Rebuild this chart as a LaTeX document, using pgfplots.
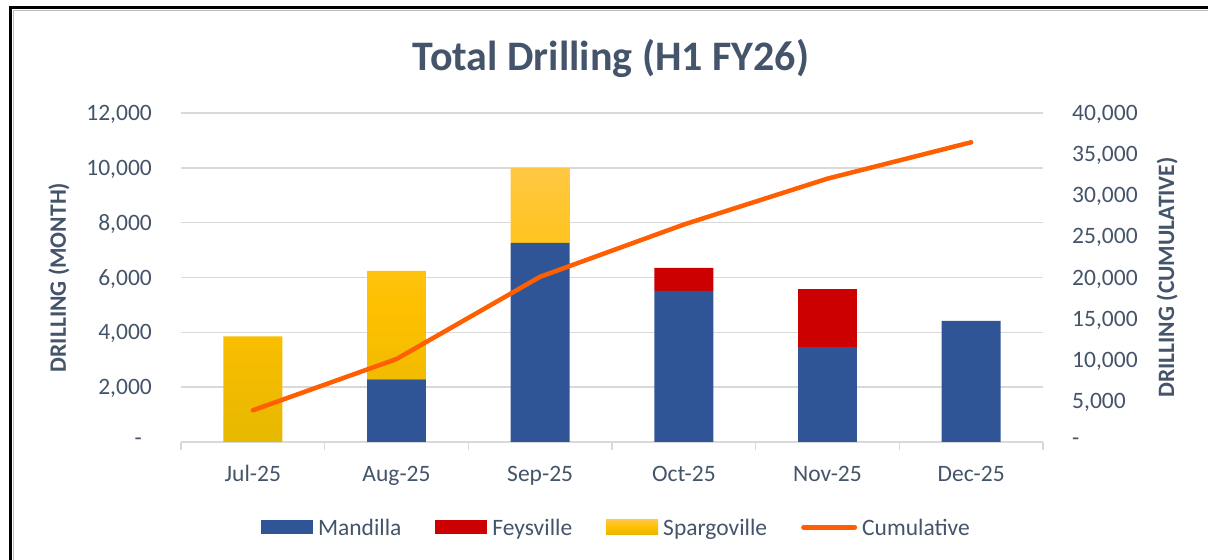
\documentclass[border=0pt]{standalone}
\usepackage{pgfplots}
\pgfplotsset{compat=1.18}
\usepackage{fontspec}
\setmainfont{Carlito}
\definecolor{txt}{HTML}{44546A}
\definecolor{gridc}{HTML}{D9D9D9}
\definecolor{mand}{HTML}{2F5597}
\definecolor{feys}{HTML}{CC0000}
\definecolor{spb}{HTML}{E6B800}
\definecolor{spm}{HTML}{FFC000}
\definecolor{spt}{HTML}{FFC843}
\definecolor{cum}{HTML}{FF5F00}
\pgfdeclareverticalshading{spargo}{100bp}{color(0bp)=(spb); color(25bp)=(spb); color(50bp)=(spm); color(75bp)=(spt); color(100bp)=(spt)}
\newcommand\lab{\fontsize{23.5bp}{28bp}\selectfont}
\begin{document}
\begin{tikzpicture}[x=1bp,y=1bp]
\useasboundingbox (0,0) rectangle (1208,560);
\draw[black!25, line width=1.2bp] (13.5,-10) -- (13.5,549.5) -- (1230,549.5);
\draw[black, line width=3bp] (10.5,-10) -- (10.5,552) -- (1230,552);
\begin{axis}[
  at={(181bp,118bp)}, anchor=south west,
  width=862bp, height=329bp, scale only axis,
  xmin=-0.5, xmax=5.5, ymin=0, ymax=12000,
  scaled y ticks=false,
  axis x line*=bottom, axis y line*=left,
  y axis line style={draw=none},
  x axis line style={gridc, line width=1.5bp},
  ytick={0,2000,...,12000},
  yticklabels={{-\hspace*{10bp}},{2,000},{4,000},{6,000},{8,000},{10,000},{12,000}},
  xtick={0,...,5},
  xticklabels={Jul-25,Aug-25,Sep-25,Oct-25,Nov-25,Dec-25},
  minor xtick={-0.5,0.5,...,5.5},
  major tick length=0pt, minor tick length=8bp, tick align=outside,
  minor tick style={gridc, line width=1.5bp},
  ymajorgrids, grid style={gridc, line width=1.5bp},
  yticklabel style={anchor=east, inner sep=0pt, xshift=-29bp, text depth=0pt, font=\lab, text=txt},
  xticklabel style={anchor=base, inner sep=0pt, yshift=-40bp, font=\lab, text=txt},
  every axis y label/.style={at={(axis description cs:-0.1415,0.5)}, rotate=90, anchor=center, font=\lab\bfseries, text=txt},
  ylabel={DRILLING (MONTH)},
  ybar stacked, bar width=0.41,
  legend columns=4, legend cell align=left,
  legend style={at={(axis description cs:0.0928,-0.262)}, anchor=west, draw=none, fill=none,
    inner sep=0pt, outer sep=0pt, font=\lab, text=txt, nodes={inner sep=0pt, font=\lab, text=txt},
    /tikz/every odd column/.append style={column sep=5bp},
    /tikz/every even column/.append style={column sep=34bp}},
]
\addplot[fill=mand, draw=none, legend image code/.code={\fill[mand] (0bp,-6bp) rectangle (52bp,8.5bp);}]
  coordinates {(0,0) (1,2280) (2,7260) (3,5510) (4,3460) (5,4420)};
\addlegendentry{Mandilla}
\addplot[fill=feys, draw=none, legend image code/.code={\fill[feys] (0bp,-6bp) rectangle (52bp,8.5bp);}]
  coordinates {(0,0) (1,0) (2,0) (3,840) (4,2120) (5,0)};
\addlegendentry{Feysville}
\addplot[shading=spargo, draw=none, legend image code/.code={\shade[shading=spargo] (0bp,-6bp) rectangle (52bp,8.5bp);}]
  coordinates {(0,3850) (1,3960) (2,2740)};
\addlegendentry{Spargoville}
\addlegendimage{legend image code/.code={\draw[cum, line width=5bp, line cap=round] (2.5bp,1bp) -- (53.5bp,1bp);}}
\addlegendentry{Cumulative}
\end{axis}
\begin{axis}[
  at={(181bp,118bp)}, anchor=south west,
  width=862bp, height=329bp, scale only axis,
  xmin=-0.5, xmax=5.5, ymin=0, ymax=40000,
  scaled y ticks=false,
  axis x line=none, axis y line*=right,
  y axis line style={draw=none},
  ytick={0,5000,...,40000},
  yticklabels={-,{5,000},{10,000},{15,000},{20,000},{25,000},{30,000},{35,000},{40,000}},
  major tick length=0pt,
  yticklabel style={anchor=west, inner sep=0pt, xshift=29bp, text depth=0pt, font=\lab, text=txt},
  every axis y label/.style={at={(axis description cs:1.1439,0.5)}, rotate=90, anchor=center, font=\lab\bfseries, text=txt},
  ylabel={DRILLING (CUMULATIVE)},
]
\addplot[cum, line width=4.5bp, line cap=round, line join=round]
  coordinates {(0,3850) (1,10090) (2,20090) (3,26440) (4,32020) (5,36440)};
\end{axis}
\node[anchor=base, font=\fontsize{42bp}{50bp}\selectfont\bfseries, text=txt] at (611,489.3) {Total Drilling (H1 FY26)};
\end{tikzpicture}
\end{document}
